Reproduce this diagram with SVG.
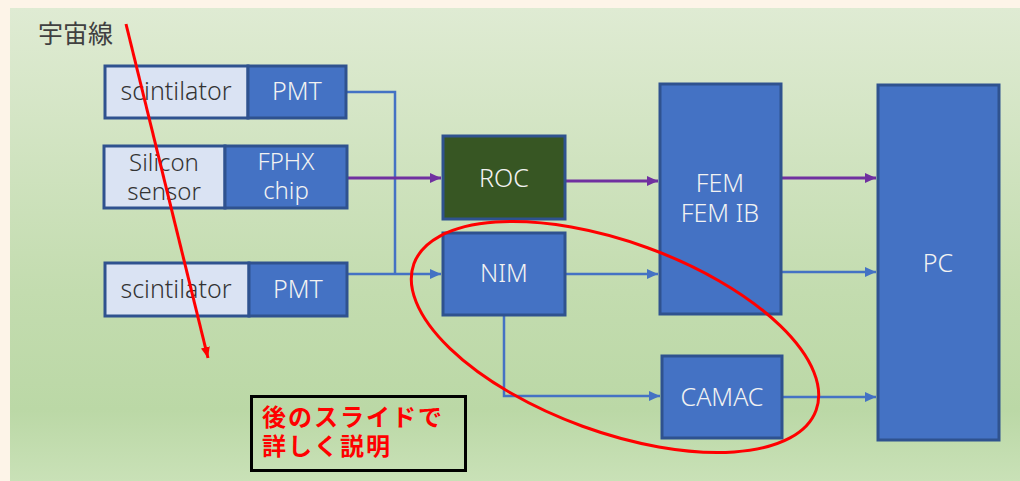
<svg xmlns="http://www.w3.org/2000/svg" width="1020" height="481" viewBox="0 0 1020 481">
<defs>
<linearGradient id="bg" x1="0" y1="0" x2="0" y2="1">
<stop offset="0" stop-color="#dfebd3"/>
<stop offset="0.6" stop-color="#c3dcaf"/>
<stop offset="0.85" stop-color="#bbd8a6"/>
<stop offset="1" stop-color="#c9e1b7"/>
</linearGradient>
<marker id="ab" markerUnits="userSpaceOnUse" markerWidth="12" markerHeight="10" refX="11" refY="5" orient="auto"><path d="M0,0 L11,5 L0,10 Z" fill="#4472c4"/></marker>
<marker id="ap" markerUnits="userSpaceOnUse" markerWidth="12" markerHeight="10" refX="11" refY="5" orient="auto"><path d="M0,0 L11,5 L0,10 Z" fill="#7030a0"/></marker>
<marker id="ar" markerUnits="userSpaceOnUse" markerWidth="12" markerHeight="10" refX="11" refY="5" orient="auto"><path d="M0,0.5 L11,5 L0,9.5 Z" fill="#ff0000"/></marker>
</defs>
<style>
.lt{fill:#dae3f3;stroke:#2f528f;stroke-width:3}
.dk{fill:#4472c4;stroke:#2f528f;stroke-width:3}
.gr{fill:#375623;stroke:#2f528f;stroke-width:3}
.t{font-family:"Noto Sans","Liberation Sans",sans-serif;font-size:25px;text-anchor:middle;font-weight:300}
.t2{font-size:24px}
.td{fill:#333333}
.tw{fill:#f2f2f2}
.cb{fill:none;stroke:#4472c4;stroke-width:2.5}
.cp{fill:none;stroke:#7030a0;stroke-width:3}
.jp{font-family:"Noto Sans CJK JP",sans-serif}
</style>
<rect x="0" y="0" width="1020" height="481" fill="#fdf4e8"/>
<rect x="10" y="8" width="1010" height="473" fill="url(#bg)"/>
<text class="jp" x="38" y="43" font-size="25" fill="#404040">宇宙線</text>
<g id="connectors">
<polyline class="cb" points="346,92 395,92 395,274"/>
<line class="cb" x1="348" y1="274" x2="441" y2="274" marker-end="url(#ab)"/>
<line class="cp" x1="347" y1="178" x2="441" y2="178" marker-end="url(#ap)"/>
<line class="cp" x1="566" y1="181" x2="658" y2="181" marker-end="url(#ap)"/>
<line class="cp" x1="782" y1="178" x2="876" y2="178" marker-end="url(#ap)"/>
<line class="cb" x1="566" y1="274" x2="658" y2="274" marker-end="url(#ab)"/>
<line class="cb" x1="782" y1="272" x2="876" y2="272" marker-end="url(#ab)"/>
<polyline class="cb" points="504,316 504,396 660,396" marker-end="url(#ab)"/>
<line class="cb" x1="783" y1="397" x2="876" y2="397" marker-end="url(#ab)"/>
</g>
<g id="scint1">
<rect class="lt" x="105" y="66" width="143" height="52"/>
<rect class="dk" x="248" y="66" width="98" height="52"/>
<text class="t td" x="176" y="100">scintilator</text>
<text class="t tw" x="297" y="100">PMT</text>
</g>
<g id="silicon">
<rect class="lt" x="104" y="146" width="121" height="62"/>
<rect class="dk" x="225" y="146" width="122" height="62"/>
<text class="t t2 td" x="164" y="171">Silicon</text>
<text class="t t2 td" x="164" y="200">sensor</text>
<text class="t t2 tw" x="286" y="170">FPHX</text>
<text class="t t2 tw" x="286" y="199">chip</text>
</g>
<g id="scint2">
<rect class="lt" x="105" y="263" width="144" height="53"/>
<rect class="dk" x="249" y="263" width="98" height="53"/>
<text class="t td" x="176" y="298">scintilator</text>
<text class="t tw" x="298" y="298">PMT</text>
</g>
<g id="roc">
<rect class="gr" x="443" y="136" width="122" height="83"/>
<text class="t tw" x="504" y="187">ROC</text>
</g>
<g id="nim">
<rect class="dk" x="443" y="233" width="122" height="82"/>
<text class="t tw" x="504" y="282">NIM</text>
</g>
<g id="fem">
<rect class="dk" x="660" y="84" width="121" height="230"/>
<text class="t tw" x="720" y="192">FEM</text>
<text class="t tw" x="720" y="222">FEM IB</text>
</g>
<g id="camac">
<rect class="dk" x="662" y="356" width="120" height="82"/>
<text class="t tw" x="722" y="406">CAMAC</text>
</g>
<g id="pc">
<rect class="dk" x="878" y="85" width="121" height="355"/>
<text class="t tw" x="938" y="272">PC</text>
</g>
<line x1="126" y1="24" x2="208" y2="358" stroke="#ff0000" stroke-width="3" marker-end="url(#ar)"/>
<ellipse cx="615" cy="337" rx="214" ry="95" transform="rotate(20 615 337)" fill="none" stroke="#ff0000" stroke-width="3"/>
<g id="note">
<rect x="251.5" y="396.5" width="214" height="74" fill="none" stroke="#000000" stroke-width="3"/>
<text class="jp" x="262" y="426" font-size="24" font-weight="bold" fill="#ff0000" letter-spacing="2">後のスライドで</text>
<text class="jp" x="262" y="455" font-size="24" font-weight="bold" fill="#ff0000" letter-spacing="2">詳しく説明</text>
</g>
</svg>
